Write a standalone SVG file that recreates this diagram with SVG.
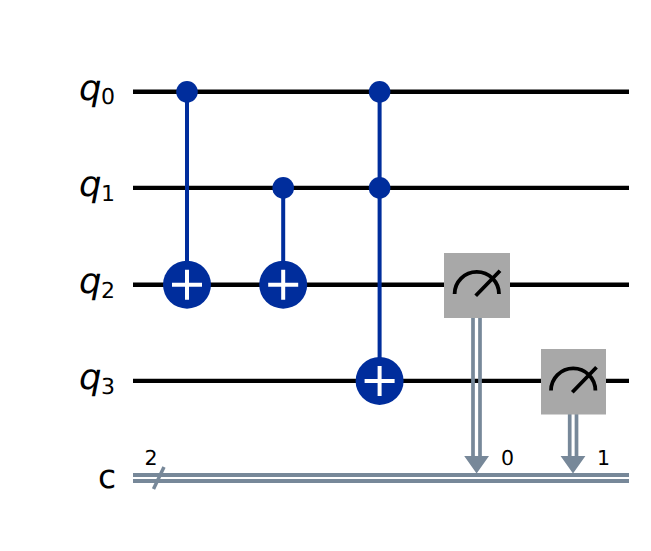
<svg xmlns="http://www.w3.org/2000/svg" width="651" height="551" viewBox="0 0 651 551">
<style>
.w{stroke:#000;stroke-width:4.400;fill:none}
.b{stroke:#002D9C;stroke-width:4;fill:none}
.cw{stroke:#778899;stroke-width:4;fill:none}
.cv{stroke:#778899;stroke-width:3.700;fill:none}
.plus{stroke:#fff;stroke-width:4;fill:none}
.ctrl{fill:#002D9C}
.tgt{fill:#002D9C}
.box{fill:#A8A8A8}
.arc{stroke:#000;stroke-width:3.800;fill:none}
text{font-family:"DejaVu Sans",sans-serif;fill:#000;text-rendering:geometricPrecision}
.q{font-style:italic;font-size:35.500px}
.s{font-style:normal;font-size:22px}
.l{font-size:20.500px}
.c{font-size:33px}
</style>
<rect width="651" height="551" fill="#fff"/>
<g id="wires">
<path class="w" d="M133 91.800H629M133 187.900H629M133 284.700H629M133 380.900H629"/>
<path class="cw" d="M133 475H629M133 481H629"/>
<path d="M153.500 489L164 467" stroke="#778899" stroke-width="3.500" fill="none"/>
</g>
<g id="connectors">
<path class="b" d="M187 91.800V284.700M283.200 187.900V284.700M379.600 91.800V380.900"/>
<path class="cv" d="M473 317V458M480 317V458M569.700 414V458M576.500 414V458"/>
<path d="M464.200 456H489L476.600 473.500Z M560.600 456H585.400L573 473.500Z" fill="#778899"/>
</g>
<g id="labels">
<text class="q" x="79" y="99.500">q<tspan class="s" x="101" dy="4.800">0</tspan></text>
<text class="q" x="79" y="195.700">q<tspan class="s" x="101" dy="5.300">1</tspan></text>
<text class="q" x="79" y="292.500">q<tspan class="s" x="101" dy="5.500">2</tspan></text>
<text class="q" x="79" y="388.700">q<tspan class="s" x="101" dy="5.600">3</tspan></text>
<text class="c" x="98" y="487.500">c</text>
<text class="l" x="144.500" y="465">2</text>
<text class="l" x="501" y="465">0</text>
<text class="l" x="597" y="465">1</text>
</g>
<g id="cx1"><circle class="ctrl" cx="187" cy="91.800" r="10.800"/><circle class="tgt" cx="187" cy="284.700" r="24"/><path class="plus" d="M172 284.700H202M187 269.700V299.700"/></g>
<g id="cx2"><circle class="ctrl" cx="283.200" cy="187.900" r="10.800"/><circle class="tgt" cx="283.200" cy="284.700" r="24"/><path class="plus" d="M268.200 284.700H298.200M283.200 269.700V299.700"/></g>
<g id="ccx"><circle class="ctrl" cx="379.600" cy="91.800" r="10.800"/><circle class="ctrl" cx="379.600" cy="187.900" r="10.800"/><circle class="tgt" cx="379.600" cy="380.900" r="24"/><path class="plus" d="M364.600 380.900H394.600M379.600 365.900V395.900"/></g>
<g id="meas0"><rect class="box" x="444" y="253" width="66" height="65"/><path class="arc" d="M454.600 294A22.200 22.200 0 0 1 499 294M475.700 295.700L500 270.700"/></g>
<g id="meas1"><rect class="box" x="541" y="349" width="65" height="65.500"/><path class="arc" d="M551 390.500A22.200 22.200 0 0 1 595.400 390.500M572.300 392.300L596.500 367.300"/></g>
</svg>
